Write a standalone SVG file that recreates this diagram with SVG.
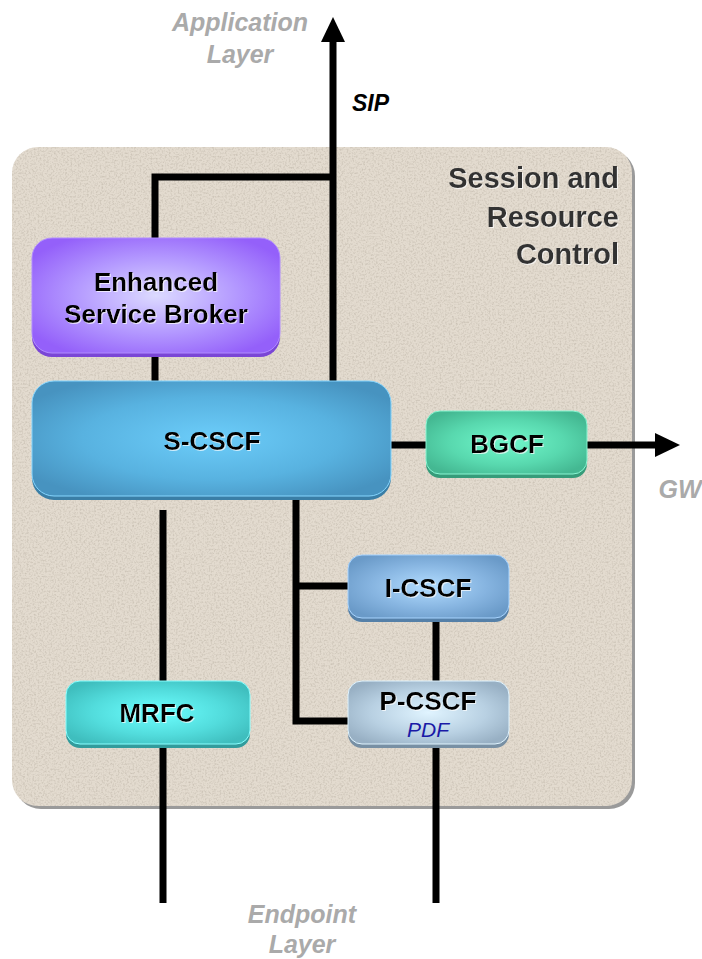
<svg xmlns="http://www.w3.org/2000/svg" width="702" height="959" viewBox="0 0 702 959">
  <defs>
    <style>
      .lbl { font-family: "Liberation Sans", Arial, sans-serif; font-weight: bold; fill: #000; text-anchor: middle; }
      .node-text { font-size: 26px; filter: url(#txtShadow); }
      .layer { font-family: "Liberation Sans", Arial, sans-serif; font-weight: bold; font-style: italic; fill: #aaaaaa; font-size: 25px; text-anchor: middle; }
      .title { font-family: "Liberation Sans", Arial, sans-serif; font-weight: bold; fill: #333; font-size: 29px; text-anchor: end; filter: url(#txtShadow); }
      .wire { stroke: #000; stroke-width: 7; fill: none; }
    </style>
    <filter id="txtShadow" x="-10%" y="-20%" width="130%" height="150%">
      <feDropShadow dx="1" dy="1" stdDeviation="0.6" flood-color="#ffffff" flood-opacity="0.7"/>
    </filter>
    <filter id="speckle" x="0" y="0" width="100%" height="100%">
      <feTurbulence type="fractalNoise" baseFrequency="0.55" numOctaves="2" seed="7" result="n"/>
      <feColorMatrix in="n" type="matrix" values="0 0 0 0 0.45  0 0 0 0 0.40  0 0 0 0 0.33  0 0 0 -2.2 1.25" result="s"/>
      <feComposite in="s" in2="SourceGraphic" operator="in"/>
    </filter>
    <marker id="head" markerUnits="userSpaceOnUse" markerWidth="25" markerHeight="24" viewBox="0 0 25 24" refX="0" refY="12" orient="auto">
      <path d="M0,0 L25,12 L0,24 Z" fill="#000"/>
    </marker>
    <radialGradient id="gPurple" cx="50%" cy="50%" r="60%">
      <stop offset="0" stop-color="#dcdaff"/>
      <stop offset="0.55" stop-color="#b398ff"/>
      <stop offset="1" stop-color="#9460fa"/>
    </radialGradient>
    <radialGradient id="gBlue" cx="50%" cy="50%" r="60%">
      <stop offset="0" stop-color="#6ccdfa"/>
      <stop offset="0.6" stop-color="#58b2e0"/>
      <stop offset="1" stop-color="#4793c0"/>
    </radialGradient>
    <radialGradient id="gGreen" cx="50%" cy="50%" r="60%">
      <stop offset="0" stop-color="#72f8cc"/>
      <stop offset="0.6" stop-color="#58d8ae"/>
      <stop offset="1" stop-color="#44b892"/>
    </radialGradient>
    <radialGradient id="gSteel" cx="50%" cy="50%" r="60%">
      <stop offset="0" stop-color="#b2dcff"/>
      <stop offset="0.6" stop-color="#86b4e0"/>
      <stop offset="1" stop-color="#6a9ac8"/>
    </radialGradient>
    <radialGradient id="gPale" cx="50%" cy="50%" r="60%">
      <stop offset="0" stop-color="#e0f4ff"/>
      <stop offset="0.6" stop-color="#b8d0e2"/>
      <stop offset="1" stop-color="#98b0c4"/>
    </radialGradient>
    <radialGradient id="gCyan" cx="50%" cy="50%" r="60%">
      <stop offset="0" stop-color="#6cffff"/>
      <stop offset="0.6" stop-color="#52dcdc"/>
      <stop offset="1" stop-color="#3fbebe"/>
    </radialGradient>
  </defs>

  <rect width="702" height="959" fill="#ffffff"/>

  <!-- Session and Resource Control panel -->
  <g id="panel">
    <rect x="15" y="150" width="620" height="659" rx="26" fill="#9a9a9a"/>
    <rect x="12" y="147" width="620" height="659" rx="26" fill="#e3dbcf"/>
    <rect x="12" y="147" width="620" height="659" rx="26" fill="#e3dbcf" filter="url(#speckle)" opacity="0.5"/>
    <text class="title" x="619" y="188">Session and</text>
    <text class="title" x="619" y="227">Resource</text>
    <text class="title" x="619" y="264">Control</text>
  </g>

  <!-- connectors -->
  <g id="connectors">
    <line class="wire" x1="333" y1="381" x2="333" y2="42" marker-end="url(#head)"/>
    <polyline class="wire" points="155,381 155,177 336,177"/>
    <line class="wire" x1="390" y1="445" x2="428" y2="445"/>
    <line class="wire" x1="586" y1="445" x2="655" y2="445" marker-end="url(#head)"/>
    <polyline class="wire" points="296,497 296,721 350,721"/>
    <line class="wire" x1="296" y1="586" x2="350" y2="586"/>
    <line class="wire" x1="163" y1="510" x2="163" y2="683"/>
    <line class="wire" x1="163" y1="745" x2="163" y2="903"/>
    <line class="wire" x1="436" y1="618" x2="436" y2="683"/>
    <line class="wire" x1="436" y1="745" x2="436" y2="903"/>
  </g>

  <!-- nodes -->
  <g id="esb">
    <rect x="32" y="241" width="248" height="116" rx="20" fill="#7a46d6"/>
    <rect x="32" y="238" width="248" height="115" rx="20" fill="url(#gPurple)" stroke="#b08cff" stroke-width="1"/>
    <text class="lbl node-text" x="156" y="291">Enhanced</text>
    <text class="lbl node-text" x="156" y="323">Service Broker</text>
  </g>

  <g id="s-cscf">
    <rect x="32" y="384" width="359" height="116" rx="22" fill="#3a7ea6"/>
    <rect x="32" y="381" width="359" height="115" rx="22" fill="url(#gBlue)" stroke="#86d6ff" stroke-width="1"/>
    <text class="lbl node-text" x="212" y="450">S-CSCF</text>
  </g>

  <g id="bgcf">
    <rect x="426" y="414" width="161" height="64" rx="14" fill="#369c7a"/>
    <rect x="426" y="411" width="161" height="63" rx="14" fill="url(#gGreen)" stroke="#8af5d2" stroke-width="1"/>
    <text class="lbl node-text" x="507" y="453">BGCF</text>
  </g>

  <g id="i-cscf">
    <rect x="348" y="558" width="161" height="64" rx="14" fill="#5580a8"/>
    <rect x="348" y="555" width="161" height="63" rx="14" fill="url(#gSteel)" stroke="#a8d4ff" stroke-width="1"/>
    <text class="lbl node-text" x="428" y="597">I-CSCF</text>
  </g>

  <g id="p-cscf">
    <rect x="348" y="684" width="161" height="64" rx="14" fill="#7890a4"/>
    <rect x="348" y="681" width="161" height="63" rx="14" fill="url(#gPale)" stroke="#e0f4ff" stroke-width="1"/>
    <text class="lbl node-text" x="428" y="710">P-CSCF</text>
    <text x="428" y="737" font-family="Liberation Sans, Arial, sans-serif" font-style="italic" font-size="21" fill="#1a1aa6" text-anchor="middle">PDF</text>
  </g>

  <g id="mrfc">
    <rect x="66" y="684" width="184" height="64" rx="14" fill="#329c9c"/>
    <rect x="66" y="681" width="184" height="63" rx="14" fill="url(#gCyan)" stroke="#8affff" stroke-width="1"/>
    <text class="lbl node-text" x="157" y="722">MRFC</text>
  </g>

  <!-- outer labels -->
  <text class="layer" x="240" y="31">Application</text>
  <text class="layer" x="240" y="63">Layer</text>
  <text x="352" y="111" font-family="Liberation Sans, Arial, sans-serif" font-weight="bold" font-style="italic" font-size="23" fill="#000">SIP</text>
  <text class="layer" x="680" y="498">GW</text>
  <text class="layer" x="302" y="923">Endpoint</text>
  <text class="layer" x="302" y="953">Layer</text>
</svg>
